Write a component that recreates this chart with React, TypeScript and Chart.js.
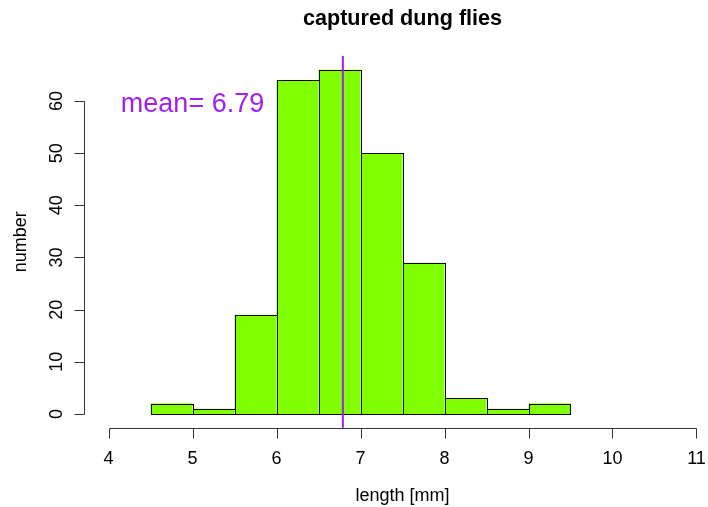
import React, { useEffect, useRef } from "react";
import { Chart, registerables } from "chart.js";

Chart.register(...registerables);

const BIN_STARTS = [4.5, 5, 5.5, 6, 6.5, 7, 7.5, 8, 8.5, 9];
const BIN_WIDTH = 0.5;
const COUNTS = [2, 1, 19, 64, 66, 50, 29, 3, 1, 2];
const X_TICKS = [4, 5, 6, 7, 8, 9, 10, 11];
const Y_TICKS = [0, 10, 20, 30, 40, 50, 60];
const MEAN = 6.79;
const TITLE = "captured dung flies";
const X_LABEL = "length [mm]";
const Y_LABEL = "number";

const FONT = '"Liberation Sans", Arial, Helvetica, sans-serif';
const PURPLE = "#A020F0";
const FILL = "#7FFF00";

const W = 708;
const H = 507;

export default function App() {
  const ref = useRef<HTMLCanvasElement | null>(null);

  useEffect(() => {
    const canvas = ref.current;
    if (!canvas) return;

    const overlay = {
      id: "rHist",
      afterDatasetsDraw(chart: any) {
        const ctx = chart.ctx as CanvasRenderingContext2D;
        const xs = chart.scales.x;
        const ys = chart.scales.y;
        const area = chart.chartArea;
        ctx.save();

        // bar outlines (1px, R style)
        const meta = chart.getDatasetMeta(0);
        ctx.strokeStyle = "#000";
        ctx.lineWidth = 1;
        meta.data.forEach((bar: any) => {
          const p = bar.getProps(["x", "y", "base", "width"], true);
          const l = Math.round(p.x - p.width / 2) + 0.5;
          const r = Math.round(p.x + p.width / 2) + 0.5;
          const t = Math.round(p.y) + 0.5;
          const b = Math.round(p.base) + 0.5;
          ctx.strokeRect(l, t, r - l, b - t);
        });

        // x axis
        ctx.strokeStyle = "#333";
        ctx.fillStyle = "#000";
        const axY = Math.round(area.bottom) + 0.5;
        const x0 = Math.round(xs.getPixelForValue(X_TICKS[0])) + 0.5;
        const x1 = Math.round(xs.getPixelForValue(X_TICKS[X_TICKS.length - 1])) + 0.5;
        ctx.beginPath();
        ctx.moveTo(x0, axY);
        ctx.lineTo(x1, axY);
        X_TICKS.forEach((v) => {
          const px = Math.round(xs.getPixelForValue(v)) + 0.5;
          ctx.moveTo(px, axY);
          ctx.lineTo(px, axY + 10);
        });
        ctx.stroke();
        ctx.font = `18px ${FONT}`;
        ctx.textAlign = "center";
        ctx.textBaseline = "alphabetic";
        X_TICKS.forEach((v) => {
          ctx.fillText(String(v), xs.getPixelForValue(v), axY + 35.5);
        });

        // y axis
        const axX = Math.round(area.left) - 0.5;
        const y0 = Math.round(ys.getPixelForValue(Y_TICKS[0])) + 0.5;
        const y1 = Math.round(ys.getPixelForValue(Y_TICKS[Y_TICKS.length - 1])) + 0.5;
        ctx.beginPath();
        ctx.moveTo(axX, y0);
        ctx.lineTo(axX, y1);
        Y_TICKS.forEach((v) => {
          const py = Math.round(ys.getPixelForValue(v)) + 0.5;
          ctx.moveTo(axX, py);
          ctx.lineTo(axX - 10, py);
        });
        ctx.stroke();
        Y_TICKS.forEach((v) => {
          ctx.save();
          ctx.translate(axX - 23, ys.getPixelForValue(v));
          ctx.rotate(-Math.PI / 2);
          ctx.fillText(String(v), 0, 0);
          ctx.restore();
        });

        // axis titles
        const plotRight = xs.getPixelForValue(11.28);
        const cx = (area.left + plotRight) / 2;
        ctx.fillText(X_LABEL, cx, 501);
        ctx.save();
        ctx.translate(26, (area.top + area.bottom) / 2);
        ctx.rotate(-Math.PI / 2);
        ctx.fillText(Y_LABEL, 0, 0);
        ctx.restore();

        // title
        ctx.font = `bold 21.6px ${FONT}`;
        ctx.fillText(TITLE, cx, 25);

        // mean line
        const mx = xs.getPixelForValue(MEAN);
        ctx.strokeStyle = PURPLE;
        ctx.lineWidth = 2;
        ctx.beginPath();
        ctx.moveTo(mx, area.top);
        ctx.lineTo(mx, area.bottom);
        ctx.stroke();

        // mean text
        ctx.fillStyle = PURPLE;
        ctx.font = `27px ${FONT}`;
        ctx.fillText("mean= " + MEAN.toFixed(2), xs.getPixelForValue(5), ys.getPixelForValue(60) + 11);

        ctx.restore();
      },
    };

    const chart = new Chart(canvas, {
      type: "bar",
      data: {
        datasets: [
          {
            data: BIN_STARTS.map((s, i) => ({ x: s + BIN_WIDTH / 2, y: COUNTS[i] })),
            backgroundColor: FILL,
            borderWidth: 0,
            barPercentage: 1,
            categoryPercentage: 1,
            inflateAmount: 0,
          },
        ],
      },
      options: {
        animation: false,
        responsive: false,
        devicePixelRatio: 1,
        layout: { padding: { left: 85, right: 0, top: 56, bottom: 79.3 } },
        plugins: { legend: { display: false }, tooltip: { enabled: false }, title: { display: false } },
        scales: {
          x: { type: "linear", min: 3.72, max: 11.137, offset: false, display: false, grid: { display: false } },
          y: { type: "linear", min: -2.64, max: 68.64, display: false, grid: { display: false } },
        },
      },
      plugins: [overlay],
    });

    return () => chart.destroy();
  }, []);

  return (
    <div style={{ position: "absolute", left: 0, top: 0, width: W, height: H, background: "#fff" }}>
      <canvas ref={ref} width={W} height={H} style={{ width: W, height: H, display: "block" }} />
    </div>
  );
}
